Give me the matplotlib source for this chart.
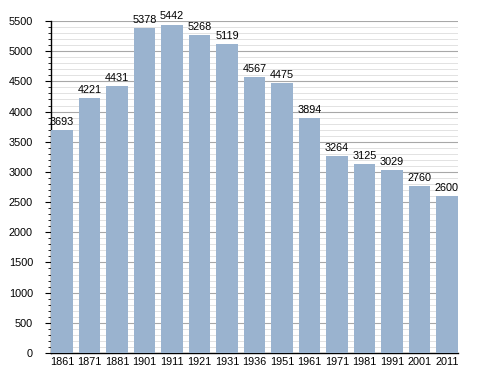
import matplotlib.pyplot as plt
from matplotlib.ticker import MultipleLocator

years = ["1861", "1871", "1881", "1901", "1911", "1921", "1931", "1936",
         "1951", "1961", "1971", "1981", "1991", "2001", "2011"]
population = [3693, 4221, 4431, 5378, 5442, 5268, 5119, 4567,
              4475, 3894, 3264, 3125, 3029, 2760, 2600]

plt.rcParams["font.family"] = ["Liberation Sans", "DejaVu Sans"]

fig = plt.figure(figsize=(4.88, 3.73), dpi=100)
ax = fig.add_axes([51 / 488, 20 / 373, 407 / 488, 332 / 373])

x = range(len(years))
ax.bar(x, population, width=0.78, color="#9ab3cf", zorder=3)
for i, v in zip(x, population):
    ax.text(i, v + 50, str(v), ha="center", va="bottom", fontsize=7.8, zorder=4)

ax.set_xlim(-0.40, len(years) - 0.60)
ax.set_ylim(0, 5500)
ax.yaxis.set_major_locator(MultipleLocator(500))
ax.yaxis.set_minor_locator(MultipleLocator(100))
ax.grid(axis="y", which="major", color="#a8a8a8", linewidth=0.8, zorder=0)
ax.grid(axis="y", which="minor", color="#e2e2e2", linewidth=0.7, zorder=0)

ax.set_xticks(list(x))
ax.set_xticklabels(years)
ax.tick_params(axis="x", length=0, labelsize=7.8, pad=3)
ax.tick_params(axis="y", which="major", length=4, width=0.8, labelsize=7.8, pad=9)
ax.tick_params(axis="y", which="minor", length=2, width=0.6)

for s in ["top", "right"]:
    ax.spines[s].set_visible(False)
ax.spines["left"].set_linewidth(1)
ax.spines["bottom"].set_linewidth(1)

fig.savefig("out.png", dpi=100)
